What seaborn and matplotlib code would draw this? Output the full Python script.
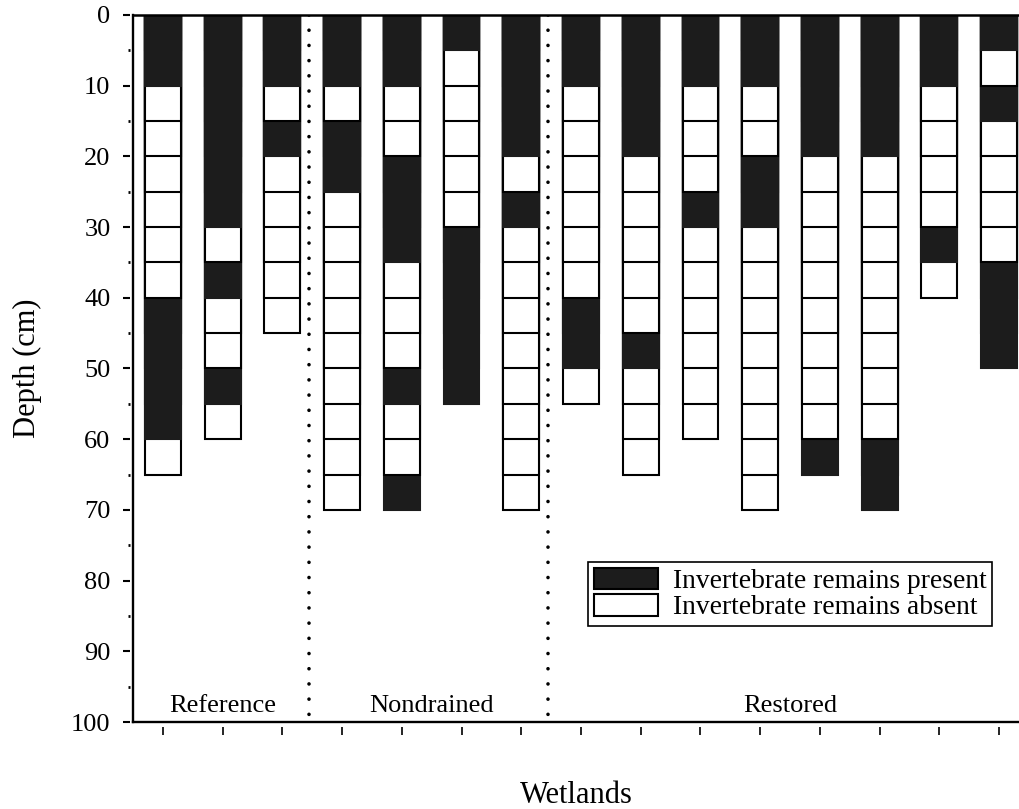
import matplotlib
matplotlib.use("Agg")
import matplotlib.pyplot as plt
from matplotlib.patches import Patch
from matplotlib.colors import to_rgba
import pandas as pd
import seaborn as sns

# ---------------- data ----------------
group_names = ["Reference", "Nondrained", "Restored"]
group_sizes = [3, 4, 8]
slice_cm = 5  # each core slice is 5 cm thick
# 1 = invertebrate remains present, 0 = absent (slices from the surface downward)
ref_1 = [1, 1, 0, 0, 0, 0, 0, 0, 1, 1, 1, 1, 0]
ref_2 = [1, 1, 1, 1, 1, 1, 0, 1, 0, 0, 1, 0]
ref_3 = [1, 1, 0, 1, 0, 0, 0, 0, 0]
nondr_1 = [1, 1, 0, 1, 1, 0, 0, 0, 0, 0, 0, 0, 0, 0]
nondr_2 = [1, 1, 0, 0, 1, 1, 1, 0, 0, 0, 1, 0, 0, 1]
nondr_3 = [1, 0, 0, 0, 0, 0, 1, 1, 1, 1, 1]
nondr_4 = [1, 1, 1, 1, 0, 1, 0, 0, 0, 0, 0, 0, 0, 0]
rest_1 = [1, 1, 0, 0, 0, 0, 0, 0, 1, 1, 0]
rest_2 = [1, 1, 1, 1, 0, 0, 0, 0, 0, 1, 0, 0, 0]
rest_3 = [1, 1, 0, 0, 0, 1, 0, 0, 0, 0, 0, 0]
rest_4 = [1, 1, 0, 0, 1, 1, 0, 0, 0, 0, 0, 0, 0, 0]
rest_5 = [1, 1, 1, 1, 0, 0, 0, 0, 0, 0, 0, 0, 1]
rest_6 = [1, 1, 1, 1, 0, 0, 0, 0, 0, 0, 0, 0, 1, 1]
rest_7 = [1, 1, 0, 0, 0, 0, 1, 0]
rest_8 = [1, 0, 1, 0, 0, 0, 0, 1, 1, 1]
y_ticks = list(range(0, 101, 10))
y_minor_ticks = list(range(5, 100, 10))
legend_labels = ["Invertebrate remains present", "Invertebrate remains absent"]

cores = [ref_1, ref_2, ref_3, nondr_1, nondr_2, nondr_3, nondr_4,
         rest_1, rest_2, rest_3, rest_4, rest_5, rest_6, rest_7, rest_8]
wetland_ids = [f"W{i+1}" for i in range(len(cores))]

rows = []
for wid, core in zip(wetland_ids, cores):
    for k, flag in enumerate(core):
        rows.append({"wetland": wid, "slice": k,
                     "bottom": (k + 1) * slice_cm,
                     "status": "present" if flag else "absent"})
df = pd.DataFrame(rows)

# ---------------- style ----------------
sns.set_theme(style="ticks", rc={
    "axes.edgecolor": "black", "xtick.color": "black", "ytick.color": "black",
    "text.color": "black", "axes.labelcolor": "black",
})
plt.rcParams["font.family"] = ["Liberation Serif", "DejaVu Serif"]

dark = "#1c1c1c"
palette = {"present": dark, "absent": "white"}
dark_rgba = to_rgba(dark)

fig = plt.figure(figsize=(10.2, 8.09), dpi=100)
ax = fig.add_axes([0.1304, 0.1075, 0.8696, 0.8740])

# draw deepest slices first, shallower ones on top -> stacked 5-cm boxes
for k in range(df["slice"].max(), -1, -1):
    sub = df[df["slice"] == k]
    n_before = len(ax.patches)
    sns.barplot(data=sub, x="wetland", y="bottom", hue="status",
                hue_order=["present", "absent"], palette=palette,
                order=wetland_ids, dodge=False, width=0.6, saturation=1,
                edgecolor="black", linewidth=1.5, errorbar=None,
                legend=False, ax=ax)
    # dark slices merge with neighbouring dark slices (no visible seams)
    for p in ax.patches[n_before:]:
        if p.get_facecolor() == dark_rgba:
            p.set_edgecolor(dark)

n = len(cores)
ax.set_xlim(-0.5, n - 0.65)
ax.set_ylim(100, 0)

# group separators and labels
start = 0
for gi, (name, size) in enumerate(zip(group_names, group_sizes)):
    center = start + (size - 1) / 2
    ax.text(center, 98.6, name, ha="center", va="baseline", fontsize=19)
    end = start + size
    if gi < len(group_names) - 1:
        ax.plot([end - 0.55, end - 0.55], [0, 100], color="black",
                lw=2.6, linestyle=(0, (0.01, 4.2)), dash_capstyle="round")
    start = end

# axes decoration
ax.set_xticks(range(n))
ax.set_xticklabels([])
ax.set_yticks(y_ticks)
ax.set_yticks(y_minor_ticks, minor=True)
ax.tick_params(axis="x", which="major", direction="out", length=6, width=1.2,
               labelbottom=False)
ax.tick_params(axis="x", which="minor", length=0)
ax.tick_params(axis="y", which="major", direction="out", length=5, width=1.5,
               pad=9, labelsize=19)
ax.tick_params(axis="y", which="minor", direction="out", length=1.5, width=2)

for side in ("left", "bottom"):
    ax.spines[side].set_visible(False)
ax.spines["left"].set_position(("outward", 2.2))
ax.spines["bottom"].set_position(("outward", 3.6))
ax.spines["right"].set_visible(False)
ax.spines["top"].set_linewidth(1.8)
ax.plot([0, 0], [0, 1], transform=ax.transAxes, color="black", lw=1.7,
        clip_on=False, solid_capstyle="projecting")
ax.plot([0, 1], [0, 0], transform=ax.transAxes, color="black", lw=1.7,
        clip_on=False, solid_capstyle="projecting")

ax.set_xlabel("Wetlands", fontsize=22)
ax.set_ylabel("Depth (cm)", fontsize=22)
ax.xaxis.set_label_coords(0.5, -0.083)
ax.yaxis.set_label_coords(-0.1026, 0.5)

handles = [Patch(facecolor=dark, edgecolor="black", linewidth=1.5),
           Patch(facecolor="white", edgecolor="black", linewidth=1.5)]
leg = ax.legend(handles, legend_labels, loc="upper left",
                bbox_to_anchor=(0.513, 0.2263), borderaxespad=0,
                fontsize=19.8, handlelength=2.33, handleheight=0.85,
                handletextpad=0.55, labelspacing=0.0, borderpad=0.2,
                frameon=True, fancybox=False, edgecolor="black",
                framealpha=1)
leg.get_frame().set_linewidth(1.2)

fig.savefig("out.png", dpi=100)
